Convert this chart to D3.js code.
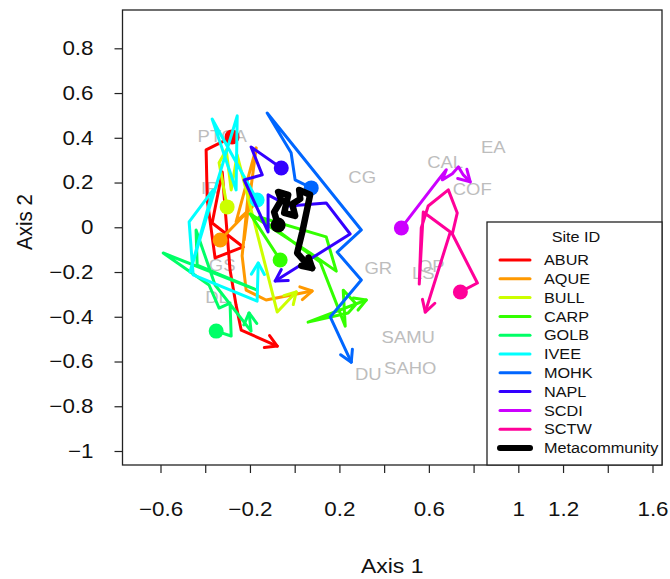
<!DOCTYPE html>
<html>
<head>
<meta charset="utf-8">
<script src="https://cdn.jsdelivr.net/npm/d3@7"></script>
<style>
  body { margin: 0; background: #fff; }
  svg text { font-family: "Liberation Sans", Arial, Helvetica, sans-serif; }
</style>
</head>
<body>
<svg id="chart" width="670" height="579"></svg>
<script>
// ---- data (ordination scores) ----
const sites = ["ABUR", "AQUE", "BULL", "CARP", "GOLB", "IVEE", "MOHK", "NAPL", "SCDI", "SCTW"];
const siteColors = ["#FF0000", "#FF9900", "#CCFF00", "#33FF00", "#00FF66", "#00FFFF", "#0066FF", "#3300FF", "#CC00FF", "#FF0099"];

const ABUR_x = [-0.280, -0.396, -0.391, -0.356, -0.230, -0.369, -0.324, -0.289, -0.262, -0.239, -0.078];
const ABUR_y = [0.404, 0.346, 0.122, -0.137, -0.088, 0.019, 0.247, -0.191, -0.348, -0.460, -0.531];
const AQUE_x = [-0.333, -0.190, -0.262, -0.172, -0.226, -0.208, -0.235, -0.217, -0.128, 0.078];
const AQUE_y = [-0.057, 0.091, 0.024, 0.355, -0.057, 0.145, -0.128, -0.281, -0.325, -0.285];
const BULL_x = [-0.302, -0.338, -0.306, -0.284, -0.257, -0.078, 0.007];
const BULL_y = [0.091, 0.288, 0.346, 0.167, 0.323, -0.379, -0.289];
const CARP_x = [-0.065, -0.199, 0.069, 0.186, 0.141, -0.159, 0.114, 0.226, 0.217, 0.275, 0.239, 0.060, 0.320];
const CARP_y = [-0.146, 0.060, -0.115, -0.196, -0.043, 0.046, -0.155, -0.442, -0.281, -0.343, -0.383, -0.424, -0.325];
const GOLB_x = [-0.351, -0.284, -0.289, -0.338, -0.383, -0.588, -0.168, -0.436, -0.441, -0.356, -0.195, -0.204];
const GOLB_y = [-0.464, -0.486, -0.339, -0.361, -0.258, -0.115, -0.281, -0.169, -0.012, -0.258, -0.464, -0.383];
const IVEE_x = [-0.168, -0.369, -0.262, -0.257, -0.468, -0.365, -0.472, -0.454, -0.168, -0.163];
const IVEE_y = [0.122, 0.484, 0.167, 0.498, -0.200, 0.167, 0.024, -0.213, -0.330, -0.160];
const MOHK_x = [0.074, 0.002, -0.016, -0.123, 0.298, 0.190, 0.298, 0.159, 0.253];
const MOHK_y = [0.176, 0.212, 0.333, 0.511, -0.012, -0.111, -0.236, -0.401, -0.603];
const NAPL_x = [-0.060, -0.195, -0.145, -0.226, -0.119, -0.119, -0.025, 0.141, 0.248, -0.087];
const NAPL_y = [0.265, 0.359, 0.234, 0.212, -0.021, 0.145, 0.095, 0.109, -0.030, -0.240];
const SCDI_x = [0.477, 0.642, 0.678, 0.660, 0.705, 0.732, 0.754, 0.785];
const SCDI_y = [-0.003, 0.212, 0.257, 0.212, 0.239, 0.270, 0.234, 0.203];
const SCTW_x = [0.741, 0.817, 0.705, 0.727, 0.687, 0.597, 0.566, 0.557, 0.575, 0.696, 0.584];
const SCTW_y = [-0.289, -0.249, -0.030, 0.064, 0.167, 0.095, -0.003, -0.254, 0.068, -0.021, -0.379];
const META_x = [-0.074, -0.092, -0.060, -0.074, -0.029, -0.047, 0.002, -0.011, 0.025, 0.020, 0.069, 0.034, 0.011, 0.047, 0.078];
const META_y = [0.010, 0.068, 0.122, 0.158, 0.145, 0.064, 0.051, 0.104, 0.127, 0.167, 0.145, -0.021, -0.115, -0.155, -0.182];

// grey labels
const labelNames = ["PTCA", "IR", "GS", "DL", "CG", "GR", "CAL", "EA", "COF", "OP", "LS", "SAMU", "SAHO", "DU"];
const labelX = [-0.324, -0.378, -0.324, -0.347, 0.302, 0.374, 0.673, 0.888, 0.794, 0.611, 0.575, 0.508, 0.517, 0.329];
const labelY = [0.408, 0.176, -0.169, -0.312, 0.221, -0.182, 0.292, 0.359, 0.171, -0.173, -0.204, -0.491, -0.630, -0.656];

const xTicks = [-0.6, -0.4, -0.2, 0, 0.2, 0.4, 0.6, 0.8, 1, 1.2, 1.4, 1.6];
const xTickShown = [-0.6, -0.2, 0.2, 0.6, 1, 1.2, 1.6];
const yTicks = [-1, -0.8, -0.6, -0.4, -0.2, 0, 0.2, 0.4, 0.6, 0.8];

// ---- layout ----
const box = {left: 122.5, right: 662, top: 10, bottom: 465};
const sx = 1.12;   // the figure's text looks horizontally stretched

let svg = d3.select("#chart");

let x = d3.scaleLinear().domain([-0.6, 1.6]).range([160.5, 652.5]);
let y = d3.scaleLinear().domain([-1, 0.8]).range([451, 48.3]);

let fmt = v => (Math.round(v * 10) / 10).toString().replace("-", "\u2212");

// text helper: horizontally stretched text
function stretchedText(g, px, py, str, size, anchor)
{
  return g.append("text")
    .attr("x", px / sx)
    .attr("y", py)
    .attr("transform", "scale(" + sx + ",1)")
    .attr("text-anchor", anchor || "middle")
    .attr("dominant-baseline", "central")
    .style("font-size", size + "px")
    .text(str);
}

// grey labels (drawn first, under the trajectories)
let labels = svg.append("g").attr("fill", "#bdbdbd");
labelNames.forEach((d, i) => {
  stretchedText(labels, x(labelX[i]), y(labelY[i]), d, 16.5);
});

// series table built from the arrays
let series = [
  {name: "ABUR", xs: ABUR_x, ys: ABUR_y},
  {name: "AQUE", xs: AQUE_x, ys: AQUE_y},
  {name: "BULL", xs: BULL_x, ys: BULL_y},
  {name: "CARP", xs: CARP_x, ys: CARP_y},
  {name: "GOLB", xs: GOLB_x, ys: GOLB_y},
  {name: "IVEE", xs: IVEE_x, ys: IVEE_y},
  {name: "MOHK", xs: MOHK_x, ys: MOHK_y},
  {name: "NAPL", xs: NAPL_x, ys: NAPL_y},
  {name: "SCDI", xs: SCDI_x, ys: SCDI_y},
  {name: "SCTW", xs: SCTW_x, ys: SCTW_y}
].map((s, i) => ({...s, color: siteColors[i], width: 3}));
series.push({name: "Metacommunity", xs: META_x, ys: META_y, color: "#000000", width: 6.5});

let line = d3.line()
  .x(d => x(d[0]))
  .y(d => y(d[1]));

function arrowHead(pts, len)
{
  let a = pts[pts.length - 2], b = pts[pts.length - 1];
  let x0 = x(a[0]), y0 = y(a[1]), x1 = x(b[0]), y1 = y(b[1]);
  let ang = Math.atan2(y1 - y0, x1 - x0);
  let spread = Math.PI / 6;
  let p1 = [x1 - len * Math.cos(ang - spread), y1 - len * Math.sin(ang - spread)];
  let p2 = [x1 - len * Math.cos(ang + spread), y1 - len * Math.sin(ang + spread)];
  return "M" + p1 + "L" + x1 + "," + y1 + "L" + p2;
}

let traj = svg.append("g")
  .attr("fill", "none")
  .attr("stroke-linecap", "round")
  .attr("stroke-linejoin", "round");

series.forEach(s => {
  let pts = s.xs.map((v, i) => [v, s.ys[i]]);
  let g = traj.append("g").attr("class", "traj");
  g.append("path")
    .attr("d", line(pts))
    .attr("stroke", s.color)
    .attr("stroke-width", s.width);
  g.append("path")
    .attr("d", arrowHead(pts, s.width > 4 ? 11 : 13))
    .attr("stroke", s.color)
    .attr("stroke-width", s.width);
  g.append("circle")
    .attr("cx", x(pts[0][0]))
    .attr("cy", y(pts[0][1]))
    .attr("r", 7.5)
    .attr("fill", s.color)
    .attr("stroke", "none");
});

// ---- axes ----
let yAxis = svg.append("g")
  .attr("transform", "translate(" + box.left + ",0)")
  .call(d3.axisLeft(y).tickValues(yTicks).tickSize(8).tickPadding(21).tickFormat(fmt));

let xAxis = svg.append("g")
  .attr("transform", "translate(0," + box.bottom + ")")
  .call(d3.axisBottom(x).tickValues(xTicks).tickSize(8).tickPadding(29)
    .tickFormat(v => xTickShown.some(t => Math.abs(t - v) < 1e-9) ? fmt(v) : ""));

[yAxis, xAxis].forEach(a => {
  a.select(".domain").remove();
  a.selectAll(".tick line").attr("stroke", "#222").attr("stroke-width", 1.2);
  a.selectAll(".tick text")
    .attr("fill", "#111")
    .style("font-size", "20px");
});
yAxis.selectAll(".tick text")
  .attr("x", -29 / sx)
  .attr("transform", "scale(" + sx + ",1)");
xAxis.selectAll(".tick text")
  .attr("transform", "scale(" + sx + ",1)");

// plot frame
svg.append("rect")
  .attr("x", box.left)
  .attr("y", box.top)
  .attr("width", box.right - box.left)
  .attr("height", box.bottom - box.top)
  .attr("fill", "none")
  .attr("stroke", "#222")
  .attr("stroke-width", 1.3);

// axis titles
let titles = svg.append("g").attr("fill", "#111");
stretchedText(titles, (box.left + box.right) / 2, 566, "Axis 1", 20.5);
titles.append("text")
  .attr("transform", "translate(24," + 222 + ") rotate(-90) scale(1," + sx + ")")
  .attr("text-anchor", "middle")
  .attr("dominant-baseline", "central")
  .style("font-size", "20.5px")
  .text("Axis 2");

// ---- legend ----
let legend = svg.append("g");
let lg = {left: 487, top: 222, right: box.right, bottom: box.bottom};
legend.append("rect")
  .attr("x", lg.left)
  .attr("y", lg.top)
  .attr("width", lg.right - lg.left)
  .attr("height", lg.bottom - lg.top)
  .attr("fill", "#fff")
  .attr("stroke", "#222")
  .attr("stroke-width", 1.3);

stretchedText(legend, 576, 237, "Site ID", 14.5).attr("fill", "#111");

let rowY = d3.scalePoint().domain(series.map(s => s.name)).range([260, 448]);

series.forEach(s => {
  legend.append("line")
    .attr("x1", 500).attr("x2", 530)
    .attr("y1", rowY(s.name)).attr("y2", rowY(s.name))
    .attr("stroke", s.color)
    .attr("stroke-width", s.width > 4 ? 6 : 3)
    .attr("stroke-linecap", "round");
  stretchedText(legend, 544, rowY(s.name), s.name, 14.5, "start").attr("fill", "#111");
});
</script>
</body>
</html>
